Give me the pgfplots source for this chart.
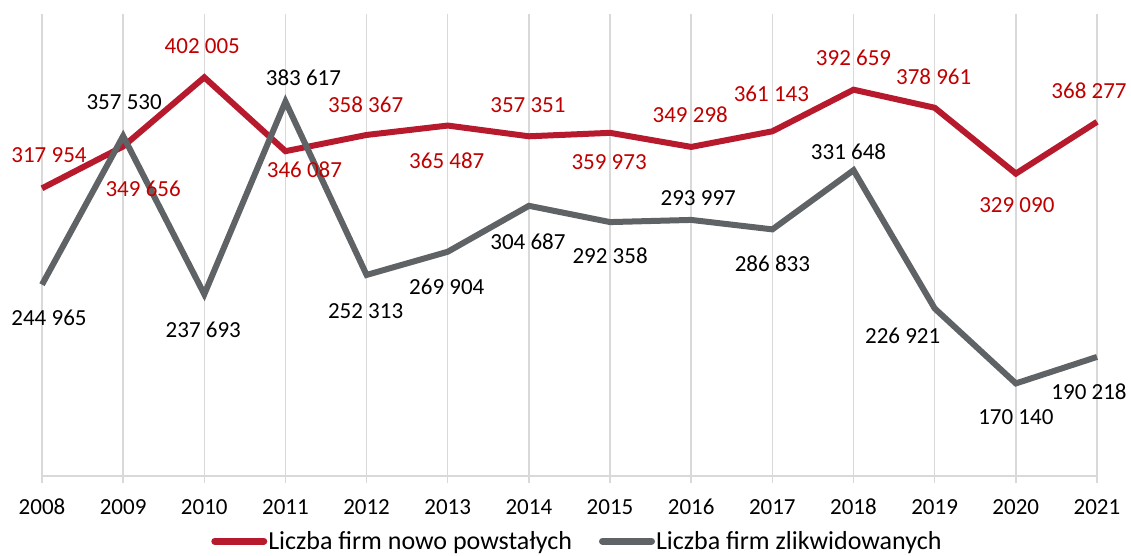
\documentclass[border=0pt]{standalone}
\usepackage{fontspec}
\setmainfont{Carlito}
\usepackage{pgfplots}
\pgfplotsset{compat=1.18}
\definecolor{redline}{RGB}{183,26,44}
\definecolor{redtext}{RGB}{192,0,0}
\definecolor{grayline}{RGB}{95,99,102}
\definecolor{gridgray}{RGB}{217,217,217}
\newcommand\fs{\fontsize{23}{28}\selectfont}
\newcommand\fl{\fontsize{26}{31}\selectfont}
\begin{document}
\begin{tikzpicture}[x=1pt,y=1pt]
\path[use as bounding box] (0,0) rectangle (1131,555);
\begin{axis}[
  at={(42pt,79pt)}, anchor=south west,
  scale only axis, width=1055pt, height=462pt,
  xmin=2008, xmax=2021, ymin=100000, ymax=450000,
  axis y line=none, axis x line=bottom,
  x axis line style={draw=gridgray, line width=1.5pt, -},
  xtick={2008,2009,...,2021},
  xticklabels={2008,2009,2010,2011,2012,2013,2014,2015,2016,2017,2018,2019,2020,2021},
  xtick align=outside, major tick length=7pt,
  tick style={draw=gridgray, line width=1.5pt},
  xmajorgrids, grid style={draw=gridgray, line width=1.5pt},
  xticklabel style={font=\fs, inner sep=0pt, anchor=north, yshift=-16pt},
  clip=false,
  legend style={at={(0.507,-0.141)}, anchor=center, draw=none, fill=none,
    legend columns=2, font=\fl, nodes={inner sep=1pt},
    /tikz/every even column/.append style={column sep=26pt}},
  legend image code/.code={\draw[#1, line cap=round, line width=7pt] (3.5pt,0pt) -- (52.5pt,0pt);},
]
\addplot[redline, line width=6pt, line join=miter] coordinates {
(2008,317954) (2009,349656) (2010,402005) (2011,346087) (2012,358367)
(2013,365487) (2014,357351) (2015,359973) (2016,349298) (2017,361143)
(2018,392659) (2019,378961) (2020,329090) (2021,368277)};
\addlegendentry{Liczba firm nowo powstałych}
\addplot[grayline, line width=6pt, line join=miter] coordinates {
(2008,244965) (2009,357530) (2010,237693) (2011,383617) (2012,252313)
(2013,269904) (2014,304687) (2015,292358) (2016,293997) (2017,286833)
(2018,331648) (2019,226921) (2020,170140) (2021,190218)};
\addlegendentry{Liczba firm zlikwidowanych}
% red labels
\begin{scope}[every node/.style={font=\fs, text=redtext, inner sep=0pt}]
\node at (axis cs:2008,317954) [xshift=7pt,yshift=33pt] {317 954};
\node at (axis cs:2009,349656) [xshift=20pt,yshift=-42pt] {349 656};
\node at (axis cs:2010,402005) [xshift=-2pt,yshift=31pt] {402 005};
\node at (axis cs:2011,346087) [xshift=19pt,yshift=-19pt] {346 087};
\node at (axis cs:2012,358367) [xshift=-1pt,yshift=30pt] {358 367};
\node at (axis cs:2013,365487) [xshift=-1pt,yshift=-35pt] {365 487};
\node at (axis cs:2014,357351) [xshift=-1pt,yshift=31pt] {357 351};
\node at (axis cs:2015,359973) [xshift=-1pt,yshift=-29pt] {359 973};
\node at (axis cs:2016,349298) [xshift=-1pt,yshift=32pt] {349 298};
\node at (axis cs:2017,361143) [xshift=-1pt,yshift=37pt] {361 143};
\node at (axis cs:2018,392659) [xshift=0pt,yshift=32pt] {392 659};
\node at (axis cs:2019,378961) [xshift=-1pt,yshift=31pt] {378 961};
\node at (axis cs:2020,329090) [xshift=1pt,yshift=-32pt] {329 090};
\node at (axis cs:2021,368277) [xshift=-8pt,yshift=31pt] {368 277};
\end{scope}
% gray labels
\begin{scope}[every node/.style={font=\fs, text=black, inner sep=0pt}]
\node at (axis cs:2008,244965) [xshift=7pt,yshift=-33pt] {244 965};
\node at (axis cs:2009,357530) [xshift=1pt,yshift=34pt] {357 530};
\node at (axis cs:2010,237693) [xshift=-1pt,yshift=-36pt] {237 693};
\node at (axis cs:2011,383617) [xshift=18pt,yshift=24pt] {383 617};
\node at (axis cs:2012,252313) [xshift=-1pt,yshift=-36pt] {252 313};
\node at (axis cs:2013,269904) [xshift=-1pt,yshift=-35pt] {269 904};
\node at (axis cs:2014,304687) [xshift=-1pt,yshift=-36pt] {304 687};
\node at (axis cs:2015,292358) [xshift=0pt,yshift=-34pt] {292 358};
\node at (axis cs:2016,293997) [xshift=7pt,yshift=22pt] {293 997};
\node at (axis cs:2017,286833) [xshift=0pt,yshift=-34pt] {286 833};
\node at (axis cs:2018,331648) [xshift=-5pt,yshift=18pt] {331 648};
\node at (axis cs:2019,226921) [xshift=-32pt,yshift=-27pt] {226 921};
\node at (axis cs:2020,170140) [xshift=0pt,yshift=-34pt] {170 140};
\node at (axis cs:2021,190218) [xshift=-8pt,yshift=-35pt] {190 218};
\end{scope}
\end{axis}
\end{tikzpicture}
\end{document}
